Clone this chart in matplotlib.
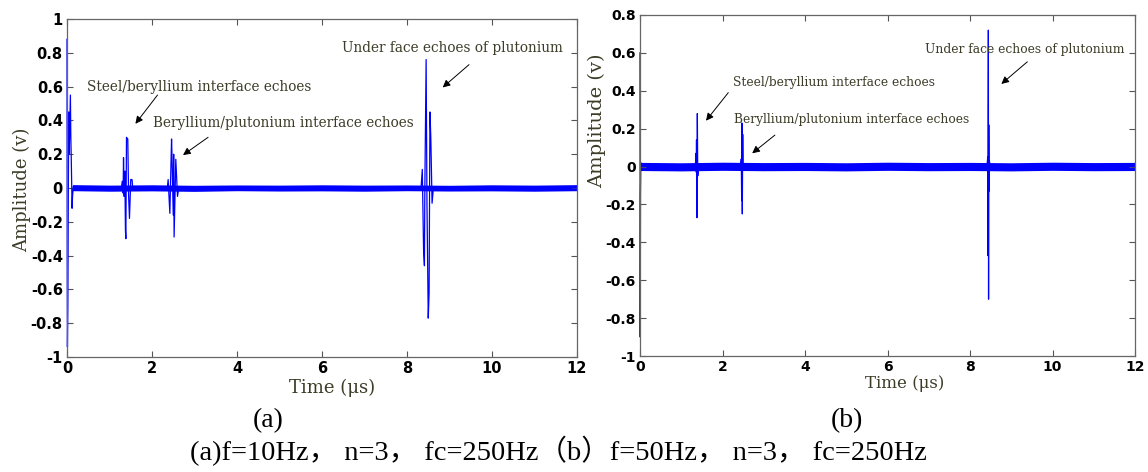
import matplotlib
matplotlib.use("Agg")
import matplotlib.pyplot as plt

# (a) f=10Hz: echo trace, sample points
ta = [0.0, 0.005, 0.01, 0.02, 0.04, 0.05, 0.06, 0.08, 0.09, 0.10, 0.12, 0.13, 0.15, 0.2,
      1.28, 1.30, 1.32, 1.33, 1.345, 1.36, 1.375, 1.385, 1.40, 1.43, 1.45, 1.47, 1.50, 1.53, 1.55, 1.58,
      2.36, 2.38, 2.42, 2.46, 2.47, 2.50, 2.51, 2.52, 2.56, 2.60, 2.63,
      8.33, 8.36, 8.39, 8.41, 8.42, 8.45, 8.47, 8.50, 8.52, 8.54, 8.56, 8.59, 8.62, 12.0]
va = [0.88, -0.5, -0.94, -0.7, 0.45, 0.2, 0.3, 0.55, 0.3, 0.18, -0.12, -0.05, 0.01, 0.0,
      0.0, 0.04, -0.03, 0.18, -0.05, 0.10, -0.25, -0.30, 0.30, 0.29, -0.05, -0.18, 0.05, 0.05, -0.01, 0.0,
      0.0, 0.05, -0.15, 0.29, 0.20, -0.16, 0.20, -0.29, 0.17, -0.05, 0.0,
      0.0, 0.11, -0.37, -0.46, 0.0, 0.76, -0.10, -0.77, -0.62, 0.45, 0.30, -0.09, 0.0, 0.0]
# noise envelope (a)
na_t = [0.13, 1, 2, 3, 4, 5, 6, 7, 8, 9, 10, 11, 12]
na_hi = [0.02, 0.017, 0.019, 0.016, 0.018, 0.017, 0.019, 0.017, 0.018, 0.016, 0.019, 0.017, 0.02]
na_lo = [-0.016, -0.019, -0.017, -0.02, -0.016, -0.018, -0.017, -0.019, -0.016, -0.018, -0.017, -0.019, -0.016]

# (b) f=50Hz
tb = [0.0, 0.005, 0.012, 0.02, 0.03,
      1.34, 1.36, 1.365, 1.37, 1.38, 1.39, 1.40, 1.42,
      2.44, 2.455, 2.465, 2.47, 2.48, 2.49, 2.50, 2.52,
      8.41, 8.43, 8.435, 8.44, 8.445, 8.45, 8.455, 8.46, 8.47, 8.49, 12.0]
vb = [0.6, -0.9, -0.15, 0.02, 0.0,
      0.0, 0.07, -0.03, 0.14, -0.27, 0.28, -0.05, 0.0,
      0.0, 0.04, -0.18, 0.23, -0.25, 0.17, -0.02, 0.0,
      0.0, 0.05, -0.47, 0.24, 0.72, -0.70, 0.22, -0.13, 0.03, 0.0, 0.0]
nb_t = [0.0, 1, 2, 3, 4, 5, 6, 7, 8, 9, 10, 11, 12]
nb_hi = [0.022, 0.02, 0.023, 0.021, 0.022, 0.02, 0.023, 0.021, 0.022, 0.02, 0.023, 0.021, 0.022]
nb_lo = [-0.021, -0.023, -0.02, -0.022, -0.021, -0.023, -0.02, -0.022, -0.021, -0.023, -0.02, -0.022, -0.021]

xticks = [0, 2, 4, 6, 8, 10, 12]
yticks_a = [-1, -0.8, -0.6, -0.4, -0.2, 0, 0.2, 0.4, 0.6, 0.8, 1]
ylabels_a = ["-1", "-0.8", "-0.6", "-0.4", "-0.2", "0", "0.2", "0.4", "0.6", "0.8", "1"]
yticks_b = [-1, -0.8, -0.6, -0.4, -0.2, 0, 0.2, 0.4, 0.6, 0.8]
ylabels_b = ["-1", "-0.8", "-0.6", "-0.4", "-0.2", "0", "0.2", "0.4", "0.6", "0.8"]

notes = ["Steel/beryllium interface echoes",
         "Beryllium/plutonium interface echoes",
         "Under face echoes of plutonium"]
# text position, arrow tail, arrow head (data coords)
notes_a = [((0.48, 0.60), (2.13, 0.55), (1.61, 0.38)),
           ((2.02, 0.385), (3.32, 0.30), (2.73, 0.195)),
           ((6.48, 0.83), (9.46, 0.73), (8.84, 0.595))]
notes_b = [((2.26, 0.443), (2.14, 0.39), (1.60, 0.242)),
           ((2.28, 0.246), (3.27, 0.166), (2.72, 0.07)),
           ((6.90, 0.62), (9.39, 0.553), (8.76, 0.436))]

W, H = 1148, 472
fig = plt.figure(figsize=(W / 100, H / 100), dpi=100)
ax1 = fig.add_axes([67 / W, 1 - 357 / H, 510 / W, 338 / H])
ax2 = fig.add_axes([640 / W, 1 - 356 / H, 495 / W, 341 / H])

txtcol = "#3c3c28"


def style(ax, yt, yl, ylim, fs, nts, nfs):
    ax.set_xlim(0, 12)
    ax.set_ylim(*ylim)
    ax.set_xticks(xticks)
    ax.set_xticklabels([str(x) for x in xticks])
    ax.set_yticks(yt)
    ax.set_yticklabels(yl)
    ax.tick_params(direction="in", top=True, right=True, length=4, width=0.8,
                   color="#555555", pad=3)
    for lab in ax.get_xticklabels() + ax.get_yticklabels():
        lab.set_fontfamily("DejaVu Sans")
        lab.set_fontweight("bold")
        lab.set_fontsize(fs)
    for sp in ax.spines.values():
        sp.set_color("#666666")
        sp.set_linewidth(0.9)
    for s, (pos, tail, head) in zip(notes, nts):
        ax.text(pos[0], pos[1], s, fontsize=nfs, family="DejaVu Serif",
                color=txtcol, ha="left", va="center")
        ax.annotate("", xy=head, xytext=tail,
                    arrowprops=dict(arrowstyle="-|>", color="k", lw=0.7,
                                    mutation_scale=11, shrinkA=0, shrinkB=0))


ax1.fill_between(na_t, na_lo, na_hi, color="b", lw=0)
ax1.plot(ta, va, color="b", lw=0.9, clip_on=False)
style(ax1, yticks_a, ylabels_a, (-1, 1), 10.5, notes_a, 9.8)

ax2.fill_between(nb_t, nb_lo, nb_hi, color="b", lw=0)
ax2.plot(tb, vb, color="b", lw=0.9, clip_on=False)
style(ax2, yticks_b, ylabels_b, (-1, 0.8), 10, notes_b, 8.8)

fig.text(22 / W, 1 - 190 / H, "Amplitude (v)", rotation=90, ha="center", va="center",
         family="DejaVu Serif", fontsize=13, color=txtcol)
fig.text(597 / W, 1 - 121 / H, "Amplitude (v)", rotation=90, ha="center", va="center",
         family="DejaVu Serif", fontsize=14, color=txtcol)
fig.text(332 / W, 1 - 388 / H, "Time (μs)", ha="center", va="center",
         family="DejaVu Serif", fontsize=13, color=txtcol)
fig.text(905 / W, 1 - 383 / H, "Time (μs)", ha="center", va="center",
         family="DejaVu Serif", fontsize=12, color=txtcol)

cap_font = ["Liberation Serif", "Noto Sans CJK SC"]
fig.text(268 / W, 1 - 421 / H, "(a)", ha="center", va="center", family=cap_font, fontsize=20)
fig.text(847 / W, 1 - 421 / H, "(b)", ha="center", va="center", family=cap_font, fontsize=20)
fig.text(558 / W, 1 - 451 / H, "(a)f=10Hz， n=3， fc=250Hz（b）f=50Hz， n=3， fc=250Hz",
         ha="center", va="center", family=cap_font, fontsize=20.5)

fig.savefig("out.png", dpi=100)
